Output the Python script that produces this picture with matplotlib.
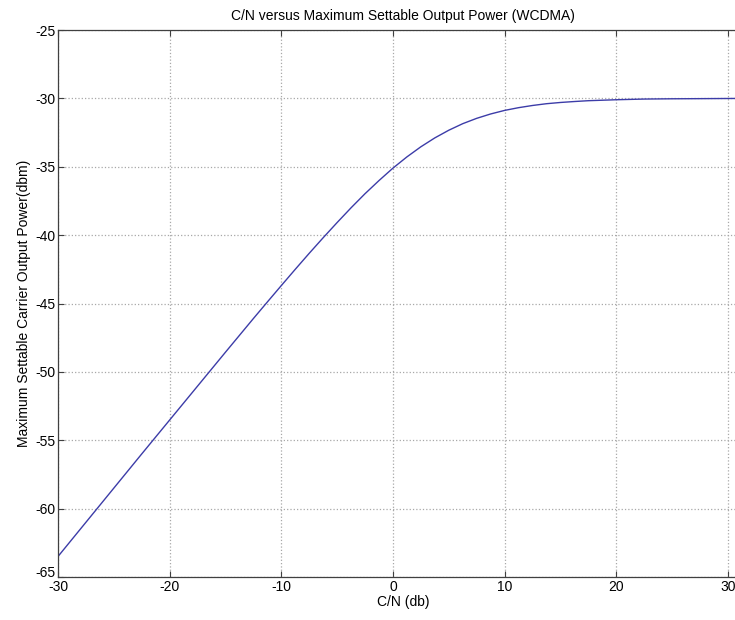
import matplotlib.pyplot as plt
import matplotlib.transforms as mtransforms

# values
cn_db = [-30, -27.5, -25, -22.5, -20, -17.5, -15, -12.5, -11.25, -10, -8.75, -7.5, -6.25, -5,
         -3.75, -2.5, -1.25, 0, 1.25, 2.5, 3.75, 5, 6.25, 7.5, 8.75, 10,
         11.25, 12.5, 13.75, 15, 16.25, 17.5, 20, 22.5, 25, 27.5, 32]
max_power = [-63.5, -61.0, -58.5, -56.0, -53.52, -51.04, -48.56, -46.1, -44.89, -43.69, -42.5, -41.33,
             -40.19, -39.08, -38.0, -36.97, -36.01, -35.1, -34.28, -33.54, -32.89, -32.33, -31.85,
             -31.46, -31.14, -30.88, -30.68, -30.52, -30.39, -30.3, -30.23, -30.17, -30.1, -30.05,
             -30.03, -30.02, -30.0]

x_ticks = [-30, -20, -10, 0, 10, 20, 30]
y_ticks = [-65, -60, -55, -50, -45, -40, -35, -30, -25]

plt.rcParams['font.family'] = ['Liberation Sans', 'DejaVu Sans']
plt.rcParams['axes.unicode_minus'] = False
plt.rcParams['path.simplify'] = False

fig = plt.figure(figsize=(7.35, 6.2), dpi=100)
ax = fig.add_axes([58 / 735, 1 - 577 / 620, 690 / 735, 547 / 620])

ax.plot(cn_db, max_power, color='#3c3ca8', lw=1.0)

ax.set_xlim(-30, 31.8)
ax.set_ylim(-65, -25)
ax.set_xticks(x_ticks)
ax.set_yticks(y_ticks)
ax.grid(True, linestyle=':', color='#a8a8a8', lw=0.9)
ax.tick_params(direction='in', top=True, right=True, length=4, labelsize=10,
               color='#404040', pad=2)
for s in ax.spines.values():
    s.set_color('#404040')
    s.set_linewidth(0.9)

# lift the bottom y label a little, as in the reference, so it clears "-30"
lbl = ax.get_yticklabels()[0]
lbl.set_transform(lbl.get_transform() + mtransforms.ScaledTranslation(0, 4 / 72, fig.dpi_scale_trans))

ax.set_title('C/N versus Maximum Settable Output Power (WCDMA)', fontsize=10, pad=7)
ax.set_xlabel('C/N (db)', fontsize=10, labelpad=1)
ax.set_ylabel('Maximum Settable Carrier Output Power(dbm)', fontsize=10, labelpad=3)

fig.savefig('out.png', dpi=100)
